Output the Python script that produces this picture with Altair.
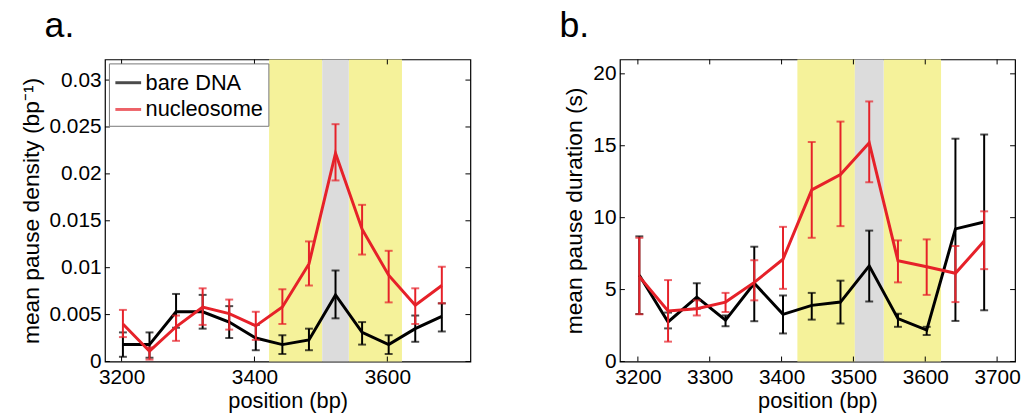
import altair as alt
import pandas as pd

# ---------------- data ----------------
positions = [3202, 3242, 3282, 3322, 3362, 3402, 3442, 3482, 3522, 3562, 3602, 3642, 3682]
series_names = ["bare DNA", "nucleosome"]

# panel a: mean pause density (bp^-1)
a_bare = [0.0018, 0.0018, 0.0053, 0.0053, 0.0042, 0.0025, 0.0018, 0.0023, 0.0071, 0.0031, 0.0018, 0.0035, 0.0048]
a_bare_lo = [0.0005, 0.0004, 0.0036, 0.0035, 0.0025, 0.0012, 0.0008, 0.0012, 0.0046, 0.0018, 0.0008, 0.0021, 0.0032]
a_bare_hi = [0.0031, 0.0031, 0.0072, 0.0071, 0.0059, 0.0039, 0.0028, 0.0035, 0.0097, 0.0042, 0.0028, 0.0049, 0.0062]
a_nuc = [0.0040, 0.0011, 0.0037, 0.0058, 0.0051, 0.0038, 0.0058, 0.0104, 0.0222, 0.0141, 0.0092, 0.0060, 0.0081]
a_nuc_lo = [0.0026, 0.0002, 0.0022, 0.0039, 0.0034, 0.0023, 0.0040, 0.0081, 0.0193, 0.0114, 0.0063, 0.0040, 0.0062]
a_nuc_hi = [0.0055, 0.0015, 0.0049, 0.0078, 0.0066, 0.0053, 0.0077, 0.0128, 0.0253, 0.0167, 0.0118, 0.0078, 0.0101]

# panel b: mean pause duration (s)
b_bare = [6.0, 2.75, 4.47, 2.87, 5.44, 3.28, 3.9, 4.13, 6.65, 2.98, 2.18, 9.22, 9.7]
b_bare_lo = [3.3, 2.3, 3.67, 2.45, 2.8, 1.95, 2.91, 2.64, 4.17, 2.41, 1.84, 2.82, 3.56]
b_bare_hi = [8.7, 3.4, 5.44, 3.2, 7.98, 4.59, 4.77, 5.62, 9.1, 3.32, 2.41, 15.49, 15.78]
b_nuc = [5.9, 3.51, 3.67, 4.13, 5.5, 7.11, 11.93, 13.0, 15.2, 7.0, 6.59, 6.13, 8.37]
b_nuc_lo = [3.28, 1.38, 3.2, 3.44, 4.25, 5.05, 8.6, 9.41, 12.46, 5.5, 4.63, 4.13, 6.42]
b_nuc_hi = [8.6, 5.66, 4.25, 4.77, 7.04, 9.36, 15.26, 16.68, 18.08, 8.42, 8.49, 8.03, 10.44]

# shaded regions (bp)
yellow_start = [3422, 3542]
yellow_end = [3502, 3622]
gray_start = [3502]
gray_end = [3542]

x_domain = [3175, 3725]
a_y_domain = [0, 0.0322]
b_y_domain = [0, 21]
a_x_ticks = [3200, 3400, 3600]
a_y_ticks = [0, 0.005, 0.01, 0.015, 0.02, 0.025, 0.03]
b_x_ticks = [3200, 3300, 3400, 3500, 3600, 3700]
b_y_ticks = [0, 5, 10, 15, 20]

RED = "#e62129"
YELLOW = "#f5f29a"
GRAY = "#dcdcdc"
FONT = "Liberation Sans"


def long_df(bare, bare_lo, bare_hi, nuc, nuc_lo, nuc_hi):
    rows = []
    for name, vals, los, his in [("bare DNA", bare, bare_lo, bare_hi),
                                 ("nucleosome", nuc, nuc_lo, nuc_hi)]:
        for p, v, lo, hi in zip(positions, vals, los, his):
            rows.append({"pos": p, "value": v, "lo": lo, "hi": hi, "series": name})
    return pd.DataFrame(rows)


def panel(df, y_domain, x_ticks, y_ticks, y_title, y_format, letter, width, height):
    x_scale = alt.Scale(domain=x_domain, nice=False, zero=False)
    y_scale = alt.Scale(domain=y_domain, nice=False, zero=False)
    x_axis = alt.Axis(values=x_ticks, title="position (bp)", format="d",
                      labelPadding=5, titlePadding=3, titleFontSize=22)
    y_axis = alt.Axis(values=y_ticks, title=y_title, format=y_format,
                      labelPadding=4, titlePadding=6, titleFontSize=23)
    color = alt.Color(
        "series:N",
        scale=alt.Scale(domain=series_names, range=["#000000", RED]),
        legend=alt.Legend(orient="top-left", offset=4, title=None,
                          symbolType="stroke", symbolSize=676, symbolStrokeWidth=3,
                          labelFontSize=22, labelOffset=3, padding=5, rowPadding=1,
                          strokeColor="#777777", fillColor="white", labelColor="black"),
    )

    yellow = alt.Chart(pd.DataFrame({"start": yellow_start, "end": yellow_end})).mark_rect(
        color=YELLOW).encode(
        x=alt.X("start:Q", scale=x_scale, axis=x_axis), x2="end:Q",
        y=alt.value(0), y2=alt.value(height))
    gray = alt.Chart(pd.DataFrame({"start": gray_start, "end": gray_end})).mark_rect(
        color=GRAY).encode(
        x=alt.X("start:Q", scale=x_scale, axis=x_axis), x2="end:Q",
        y=alt.value(0), y2=alt.value(height))

    X = alt.X("pos:Q", scale=x_scale, axis=x_axis)
    layers = [yellow, gray]
    base = alt.Chart(df)
    for name in series_names:
        s = base.transform_filter(alt.datum.series == name)
        bars = s.mark_rule(strokeWidth=2).encode(
            x=X, y=alt.Y("lo:Q", scale=y_scale, axis=y_axis), y2="hi:Q", color=color)
        cap_lo = s.mark_tick(orient="horizontal", size=8, thickness=2).encode(
            x=X, y=alt.Y("lo:Q", scale=y_scale, axis=y_axis), color=color)
        cap_hi = s.mark_tick(orient="horizontal", size=8, thickness=2).encode(
            x=X, y=alt.Y("hi:Q", scale=y_scale, axis=y_axis), color=color)
        line = s.mark_line(strokeWidth=3).encode(
            x=X, y=alt.Y("value:Q", scale=y_scale, axis=y_axis), color=color)
        layers += [bars, cap_lo, cap_hi, line]

    # inward MATLAB-style ticks on all four sides
    xt = alt.Chart(pd.DataFrame({"t": x_ticks}))
    yt = alt.Chart(pd.DataFrame({"t": y_ticks}))
    tx = alt.X("t:Q", scale=x_scale, axis=x_axis)
    ty = alt.Y("t:Q", scale=y_scale, axis=y_axis)
    layers += [
        xt.mark_rule(color="black", strokeWidth=1).encode(x=tx, y=alt.value(height), y2=alt.value(height - 5)),
        xt.mark_rule(color="black", strokeWidth=1).encode(x=tx, y=alt.value(0), y2=alt.value(5)),
        yt.mark_rule(color="black", strokeWidth=1).encode(y=ty, x=alt.value(0), x2=alt.value(5)),
        yt.mark_rule(color="black", strokeWidth=1).encode(y=ty, x=alt.value(width), x2=alt.value(width - 5)),
    ]

    label = alt.Chart(pd.DataFrame({"label": [letter]})).mark_text(
        fontSize=36, align="left", baseline="alphabetic", color="black", font=FONT).encode(
        text="label:N", x=alt.value(-61), y=alt.value(-23))
    layers.append(label)

    return alt.layer(*layers).properties(width=width, height=height)


df_a = long_df(a_bare, a_bare_lo, a_bare_hi, a_nuc, a_nuc_lo, a_nuc_hi)
df_b = long_df(b_bare, b_bare_lo, b_bare_hi, b_nuc, b_nuc_lo, b_nuc_hi)

panel_a = panel(df_a, a_y_domain, a_x_ticks, a_y_ticks,
                "mean pause density (bp\u207b\u00b9)", "~g", "a.", 369, 305)
panel_b = panel(df_b, b_y_domain, b_x_ticks, b_y_ticks,
                "mean pause duration (s)", "d", "b.", 399, 305)

chart = alt.hconcat(panel_a, panel_b, spacing=87).properties(
    padding={"left": 19, "top": 5, "right": 0, "bottom": 0},
    background="white",
).configure(font=FONT).configure_view(
    stroke="black", strokeWidth=1.2
).configure_axis(
    grid=False, domain=False, ticks=False,
    labelFontSize=21, titleFontWeight="normal",
    labelColor="black", titleColor="black", labelFont=FONT, titleFont=FONT,
).configure_legend(labelFont=FONT)

chart.save("out.html", embed_options={"renderer": "svg", "actions": False})
